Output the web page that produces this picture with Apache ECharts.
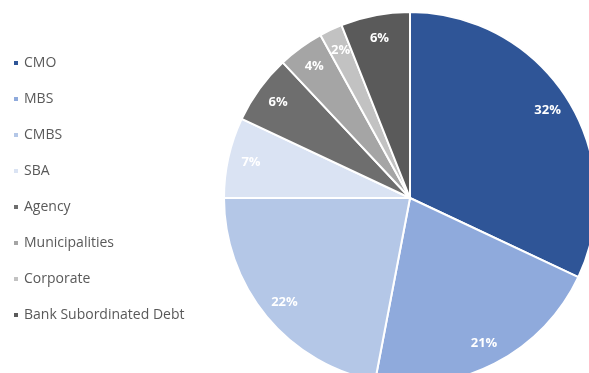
<!DOCTYPE html>
<html>
<head>
<meta charset="utf-8">
<script src="https://cdn.jsdelivr.net/npm/echarts@6/dist/echarts.min.js"></script>
<style>
  html, body { margin: 0; padding: 0; background: #ffffff; }
  #chart { width: 589px; height: 373px; }
</style>
</head>
<body>
<div id="chart"></div>
<script>
// Portfolio composition by security type (percent of total)
const categories = ['CMO', 'MBS', 'CMBS', 'SBA', 'Agency', 'Municipalities', 'Corporate', 'Bank Subordinated Debt'];
const shares = [32, 21, 22, 7, 6, 4, 2, 6];
const colors = ['#2F5597', '#8FAADC', '#B4C7E7', '#DAE3F3', '#6E6E6E', '#A5A5A5', '#C2C2C2', '#5A5A5A'];

const center = [410, 198];
const radius = 186;

const pieData = categories.map((name, i) => ({ name, value: shares[i], itemStyle: { color: colors[i] } }));
// Transparent ring that only carries the percentage labels, placed near the rim
const labelData = categories.map((name, i) => ({ name, value: shares[i] }));

const chart = echarts.init(document.getElementById('chart'), null, { renderer: 'canvas' });
chart.setOption({
  animation: false,
  color: colors,
  legend: {
    orient: 'vertical',
    left: 7,
    top: 50,
    data: categories,
    icon: 'rect',
    itemWidth: 6,
    itemHeight: 6,
    itemGap: 20,
    textStyle: { color: '#595959', fontSize: 14, fontFamily: 'Open Sans', lineHeight: 16 },
    selectedMode: false
  },
  series: [
    {
      type: 'pie',
      center: center,
      radius: [0, radius],
      startAngle: 90,
      clockwise: true,
      silent: true,
      label: { show: false },
      labelLine: { show: false },
      itemStyle: { borderColor: '#ffffff', borderWidth: 2 },
      data: pieData
    },
    {
      type: 'pie',
      center: center,
      radius: [radius * 0.72, radius],
      startAngle: 90,
      clockwise: true,
      silent: true,
      itemStyle: { color: 'rgba(0,0,0,0)' },
      label: {
        show: true,
        position: 'inside',
        formatter: '{c}%',
        color: '#ffffff',
        fontWeight: 'bold',
        fontSize: 13,
        fontFamily: 'Open Sans'
      },
      labelLine: { show: false },
      data: labelData
    }
  ]
});
</script>
</body>
</html>
